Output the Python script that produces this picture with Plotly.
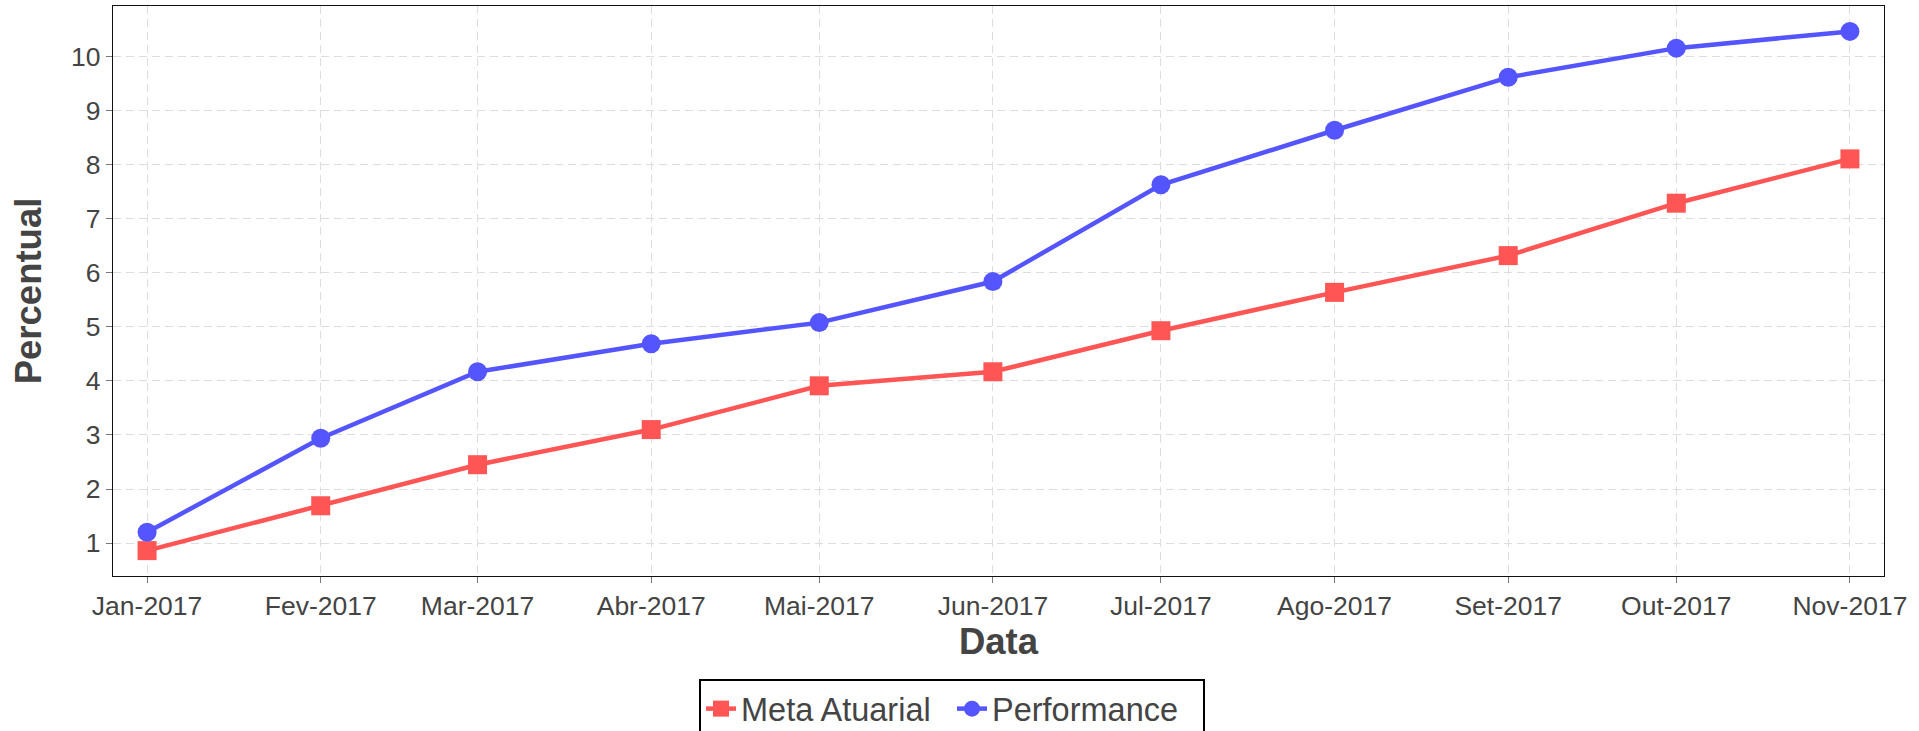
import plotly.graph_objects as go

dates = ["2017-01-01", "2017-02-01", "2017-03-01", "2017-04-01", "2017-05-01", "2017-06-01",
         "2017-07-01", "2017-08-01", "2017-09-01", "2017-10-01", "2017-11-01"]
tick_labels = ["Jan-2017", "Fev-2017", "Mar-2017", "Abr-2017", "Mai-2017", "Jun-2017",
               "Jul-2017", "Ago-2017", "Set-2017", "Out-2017", "Nov-2017"]
meta_atuarial = [0.86, 1.69, 2.45, 3.10, 3.91, 4.17, 4.93, 5.64, 6.32, 7.29, 8.11]
performance = [1.20, 2.94, 4.17, 4.69, 5.08, 5.84, 7.63, 8.64, 9.62, 10.16, 10.47]
y_ticks = [1, 2, 3, 4, 5, 6, 7, 8, 9, 10]

FONT = "Liberation Sans, Arial, sans-serif"
RED = "#FF5555"
BLUE = "#5555FF"

fig = go.Figure()
fig.add_trace(go.Scatter(
    x=dates, y=meta_atuarial, name="Meta Atuarial", mode="lines+markers",
    line=dict(color=RED, width=4.5),
    marker=dict(symbol="square", size=19, color=RED),
))
fig.add_trace(go.Scatter(
    x=dates, y=performance, name="Performance", mode="lines+markers",
    line=dict(color=BLUE, width=4.5),
    marker=dict(symbol="circle", size=19, color=BLUE),
))

axis_common = dict(
    showline=True, linecolor="#111", linewidth=1.3, mirror=True,
    showgrid=True, gridcolor="#dddddd", gridwidth=1, griddash="8px,5px",
    ticks="outside", ticklen=6, tickcolor="#777", tickwidth=1,
    tickfont=dict(family=FONT, size=26.5, color="#444"),
    zeroline=False, automargin=False,
)

fig.update_layout(
    width=1919, height=731,
    margin=dict(l=113, r=35, t=6, b=155),
    paper_bgcolor="white", plot_bgcolor="white",
    font=dict(family=FONT, color="#444"),
    xaxis=dict(
        type="date",
        range=["2016-12-25 22:00", "2017-11-07 02:00"],
        tickvals=dates, ticktext=tick_labels,
        title=dict(text="Data", font=dict(family=FONT, size=36.5, color="#444", weight="bold"), standoff=5),
        **axis_common,
    ),
    yaxis=dict(
        range=[0.39, 10.94],
        tickvals=y_ticks,
        title=dict(text="Percentual", font=dict(family=FONT, size=36.5, color="#444", weight="bold"), standoff=18),
        **axis_common,
    ),
    legend=dict(
        orientation="h",
        xref="paper", x=(699 - 113) / 1771, xanchor="left",
        yref="container", y=1 - 679 / 731, yanchor="top",
        entrywidth=206,
        font=dict(family=FONT, size=32.5, color="#444"),
        bordercolor="#000", borderwidth=2, bgcolor="white",
    ),
    showlegend=True,
)

fig.write_html("out.html", config={"displayModeBar": False},
               post_script="document.body.style.margin='0';")
